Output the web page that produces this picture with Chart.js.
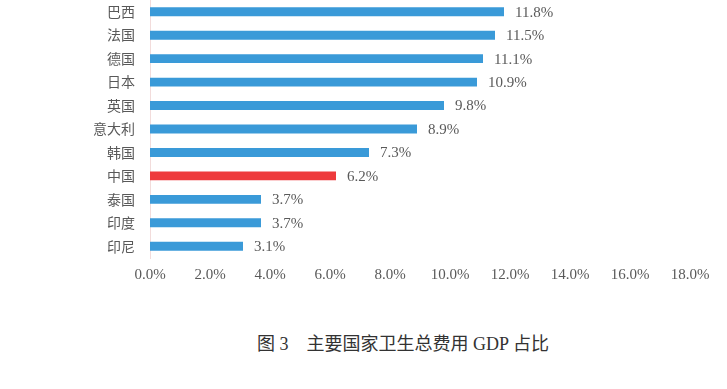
<!DOCTYPE html>
<html>
<head>
<meta charset="utf-8">
<script src="https://cdn.jsdelivr.net/npm/chart.js@4"></script>
<style>
  body { margin: 0; background: #fff; width: 727px; height: 389px; position: relative; overflow: hidden; }
  #wrap { position: absolute; left: 0; top: 0; width: 727px; height: 290px; }
  #caption {
    position: absolute; top: 329px; left: 0; width: 806px; text-align: center;
    font-family: "Liberation Serif", "Noto Sans CJK SC", serif; font-size: 18px; color: #333;
    white-space: pre;
  }
</style>
</head>
<body>
<div id="wrap"><canvas id="gdpChart"></canvas></div>
<div id="caption">图 3    主要国家卫生总费用 GDP 占比</div>
<script>
// 主要国家卫生总费用占GDP比重
const countries = ['巴西', '法国', '德国', '日本', '英国', '意大利', '韩国', '中国', '泰国', '印度', '印尼'];
const shares = [11.8, 11.5, 11.1, 10.9, 9.8, 8.9, 7.3, 6.2, 3.7, 3.7, 3.1];
const xTicks = [0, 2, 4, 6, 8, 10, 12, 14, 16, 18];

const blue = '#3A9AD8';
const red = '#EE3A3C';
const textColor = '#595959';

// 柱子末端的数值标签
const valueLabels = {
    id: 'valueLabels',
    afterDatasetsDraw(chart) {
        const ctx = chart.ctx;
        const meta = chart.getDatasetMeta(0);
        ctx.save();
        ctx.font = '15px "Liberation Serif", serif';
        ctx.fillStyle = textColor;
        ctx.textAlign = 'left';
        ctx.textBaseline = 'middle';
        meta.data.forEach((bar, i) => {
            ctx.fillText(shares[i].toFixed(1) + '%', bar.x + 11, bar.y + 1);
        });
        ctx.restore();
    }
};

new Chart(document.getElementById('gdpChart').getContext('2d'), {
    type: 'bar',
    data: {
        labels: countries,
        datasets: [{
            data: shares,
            backgroundColor: countries.map(c => c === '中国' ? red : blue),
            borderWidth: 0,
            barPercentage: 0.38,
            categoryPercentage: 1
        }]
    },
    options: {
        indexAxis: 'y',
        responsive: true,
        maintainAspectRatio: false,
        animation: false,
        layout: { padding: { left: 0, right: 37, top: 0, bottom: 0 } },
        plugins: {
            legend: { display: false },
            tooltip: { enabled: false }
        },
        scales: {
            x: {
                min: 0,
                max: 18,
                afterBuildTicks: scale => { scale.ticks = xTicks.map(v => ({ value: v })); },
                afterFit: scale => {
                    scale.height = 32;
                    scale.paddingLeft = 0;
                    scale.paddingRight = 0;
                },
                grid: { display: false, drawTicks: false },
                border: { display: false },
                ticks: {
                    padding: 8,
                    color: textColor,
                    font: { family: '"Liberation Serif", serif', size: 15 },
                    callback: v => v.toFixed(1) + '%'
                }
            },
            y: {
                afterFit: scale => {
                    scale.width = 150;
                    scale.paddingTop = 0;
                    scale.paddingBottom = 0;
                },
                grid: { display: false, drawTicks: false },
                border: { display: true, color: '#F2DCDB', width: 1 },
                ticks: {
                    padding: 15,
                    color: textColor,
                    font: { family: '"Noto Sans CJK SC", sans-serif', size: 14 }
                }
            }
        }
    },
    plugins: [valueLabels]
});
</script>
</body>
</html>
